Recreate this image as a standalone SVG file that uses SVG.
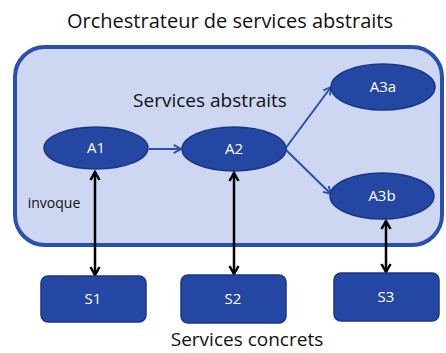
<svg xmlns="http://www.w3.org/2000/svg" width="446" height="353" viewBox="0 0 446 353">
<defs>
<style>
.t{font-family:"Open Sans","Liberation Sans",sans-serif;fill:#111;}
.n ellipse,.n rect{fill:#2447a3;stroke:#1a3685;stroke-width:1.5;}
.n text{font-family:"Open Sans","Liberation Sans",sans-serif;font-size:15px;fill:#fff;text-anchor:middle;}
.b{stroke:#2a4fae;stroke-width:2;fill:none;}
.k{stroke:#000;stroke-width:2.5;fill:none;}
</style>
<marker id="mk" viewBox="0 0 12 12" refX="10" refY="6" markerWidth="12" markerHeight="12" orient="auto-start-reverse" markerUnits="userSpaceOnUse">
<path d="M2,1.5 L10,6 L2,10.5" fill="none" stroke="#000" stroke-width="2.5"/>
</marker>
<marker id="mb2" viewBox="0 0 12 12" refX="10" refY="6" markerWidth="11" markerHeight="11" orient="auto" markerUnits="userSpaceOnUse">
<path d="M2,1.5 L10,6 L2,10.5" fill="none" stroke="#2a4fae" stroke-width="2"/>
</marker>
</defs>
<rect width="446" height="353" fill="#fff"/>
<text class="t" x="230" y="28" font-size="20" text-anchor="middle">Orchestrateur de services abstraits</text>
<g id="orchestrateur">
<rect x="15" y="47" width="427" height="198" rx="30" ry="30" fill="#cdd7f1" stroke="#2a4fae" stroke-width="4"/>
<text class="t" x="210" y="107" font-size="19" text-anchor="middle">Services abstraits</text>
</g>
<text class="t" x="54" y="208" font-size="14" text-anchor="middle">invoque</text>
<g id="connectors">
<line class="b" x1="149" y1="149" x2="181" y2="149" marker-end="url(#mb2)"/>
<line class="b" x1="285" y1="149" x2="331" y2="87" marker-end="url(#mb2)"/>
<line class="b" x1="285" y1="149" x2="331" y2="194" marker-end="url(#mb2)"/>
<line class="k" x1="95" y1="172" x2="95" y2="275" marker-start="url(#mk)" marker-end="url(#mk)"/>
<line class="k" x1="234" y1="173" x2="234" y2="274" marker-start="url(#mk)" marker-end="url(#mk)"/>
<line class="k" x1="386" y1="221" x2="386" y2="272" marker-start="url(#mk)" marker-end="url(#mk)"/>
</g>
<g id="A1" class="n"><ellipse cx="96" cy="148" rx="52" ry="21"/><text x="96" y="153">A1</text></g>
<g id="A2" class="n"><ellipse cx="234" cy="149" rx="52" ry="22"/><text x="234" y="154">A2</text></g>
<g id="A3a" class="n"><ellipse cx="383" cy="87" rx="52" ry="23"/><text x="383" y="92">A3a</text></g>
<g id="A3b" class="n"><ellipse cx="382" cy="196" rx="52" ry="23"/><text x="382" y="201">A3b</text></g>
<g id="S1" class="n"><rect x="41" y="276" width="105" height="46" rx="7"/><text x="93" y="304">S1</text></g>
<g id="S2" class="n"><rect x="181" y="275" width="105" height="48" rx="7"/><text x="233" y="304">S2</text></g>
<g id="S3" class="n"><rect x="334" y="273" width="105" height="48" rx="7"/><text x="386" y="302">S3</text></g>
<text class="t" x="247" y="346" font-size="19" text-anchor="middle">Services concrets</text>
</svg>
